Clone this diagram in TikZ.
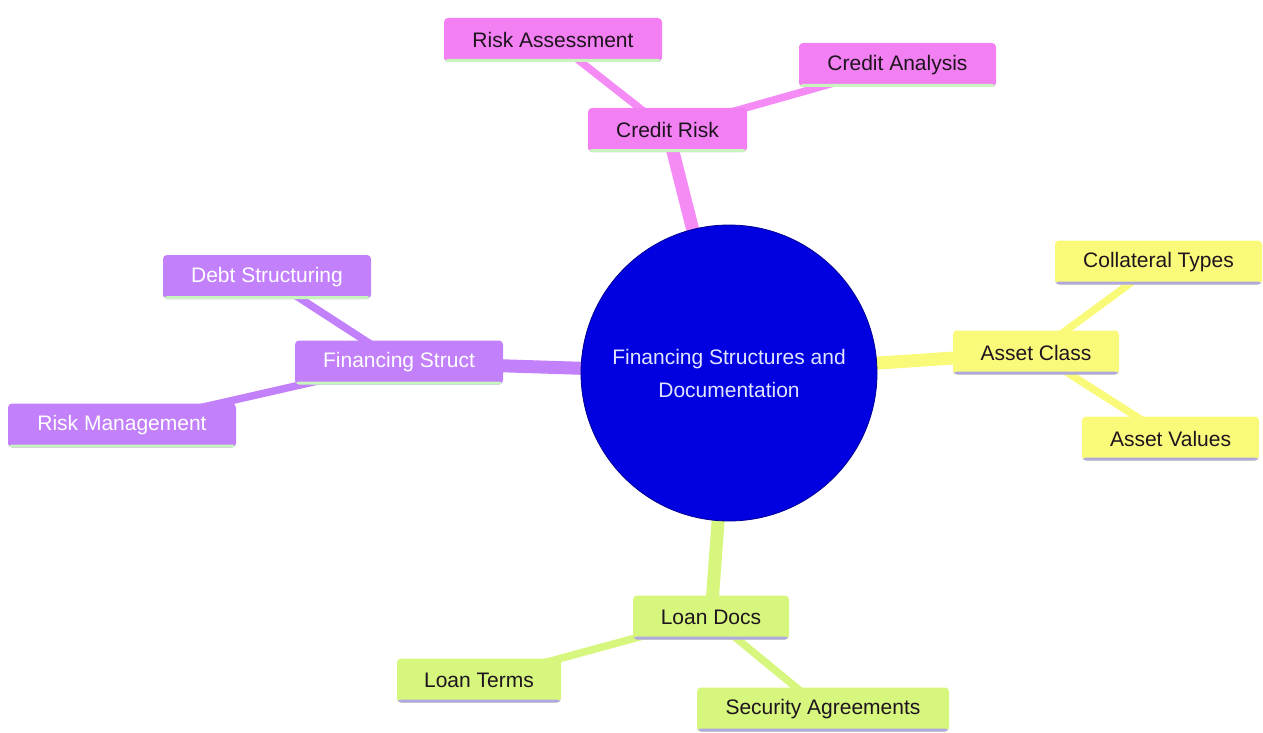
\documentclass[tikz,border=0pt]{standalone}
\usepackage{fontspec}
\setmainfont{Liberation Sans}
\usetikzlibrary{backgrounds}
\definecolor{pinkc}{RGB}{242,128,242}
\definecolor{pinke}{RGB}{245,140,245}
\definecolor{purpc}{RGB}{194,128,250}
\definecolor{yelc}{RGB}{250,250,122}
\definecolor{grnc}{RGB}{214,246,126}
\definecolor{bluec}{RGB}{0,0,224}
\definecolor{lav}{RGB}{176,168,224}
\definecolor{lgrn}{RGB}{200,245,190}
\definecolor{darktxt}{RGB}{30,20,30}
\tikzset{
  box/.style={rounded corners=4pt, minimum height=44pt, inner sep=0pt,
    font=\fontsize{21}{24}\selectfont},
  botline/.style={path picture={\fill[#1] ([yshift=3pt]path picture bounding box.south west) rectangle (path picture bounding box.south east);}},
  pinkbox/.style={box, fill=pinkc, text=darktxt, botline=lgrn},
  purpbox/.style={box, fill=purpc, text=white, botline=lgrn},
  yelbox/.style={box, fill=yelc, text=darktxt, botline=lav},
  grnbox/.style={box, fill=grnc, text=darktxt, botline=lav},
  mainedge/.style={line width=13pt},
  subedge/.style={line width=7.5pt},
}
\begin{document}
\begin{tikzpicture}[x=1pt,y=-1pt]
\useasboundingbox (0,0) rectangle (1263,733);
% root
\node[circle, fill=bluec, draw={rgb,255:red,0;green,0;blue,150}, line width=0.8pt, minimum size=296pt, inner sep=0pt, text={rgb,255:red,225;green,228;blue,255}, align=center, font=\fontsize{21}{33}\selectfont] (root) at (729,373) {Financing Structures and\\Documentation};
% credit risk
\node[pinkbox, minimum width=159pt] (cr) at (667.5,130) {Credit Risk};
\node[pinkbox, minimum width=218pt] (ra) at (553,40) {Risk Assessment};
\node[pinkbox, minimum width=197pt] (ca) at (897.5,65) {Credit Analysis};
% asset class
\node[yelbox, minimum width=166pt] (ac) at (1036,352.5) {Asset Class};
\node[yelbox, minimum width=207pt] (ct) at (1158.5,262.5) {Collateral Types};
\node[yelbox, minimum width=177pt] (av) at (1170.5,438.5) {Asset Values};
% financing struct
\node[purpbox, minimum width=208pt] (fs) at (399,362.5) {Financing Struct};
\node[purpbox, minimum width=208pt] (ds) at (267,277) {Debt Structuring};
\node[purpbox, minimum width=228pt] (rm) at (122,425.5) {Risk Management};
% loan docs
\node[grnbox, minimum width=156pt] (ld) at (711,617.5) {Loan Docs};
\node[grnbox, minimum width=164pt] (lt) at (479,680.5) {Loan Terms};
\node[grnbox, minimum width=252pt] (sa) at (823,709.5) {Security Agreements};
\begin{scope}[on background layer]
\draw[mainedge, pinke] (cr.center) -- (root.center);
\draw[mainedge, yelc] (ac.center) -- (root.center);
\draw[mainedge, purpc] (fs.center) -- (root.center);
\draw[mainedge, grnc] (ld.center) -- (root.center);
\draw[subedge, pinke] (ra.center) -- (cr.center);
\draw[subedge, pinke] (ca.center) -- (cr.center);
\draw[subedge, yelc] (ct.center) -- (ac.center);
\draw[subedge, yelc] (av.center) -- (ac.center);
\draw[subedge, purpc] (ds.center) -- (fs.center);
\draw[subedge, purpc] (rm.center) -- (fs.center);
\draw[subedge, grnc] (lt.center) -- (ld.center);
\draw[subedge, grnc] (sa.center) -- (ld.center);
\end{scope}
\end{tikzpicture}
\end{document}
